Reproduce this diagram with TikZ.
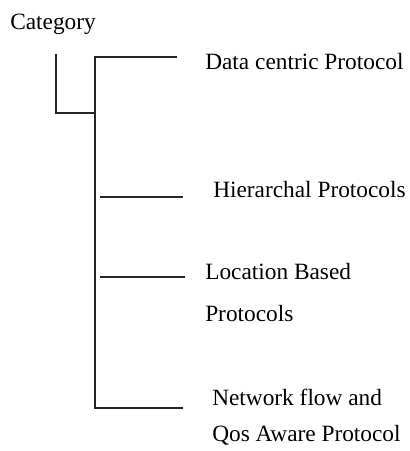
\documentclass[tikz,border=0pt]{standalone}
\usepackage{fontspec}
\setmainfont{Liberation Serif}
\begin{document}
\begin{tikzpicture}[x=0.75pt, y=-0.75pt]
\tikzset{branch/.style={line width=1.3pt, black!85},
  label/.style={anchor=base west, inner sep=0pt, font=\fontsize{17.5}{21}\selectfont}}
\useasboundingbox (0,0) rectangle (410,451);

% title
  \node[label] (cat) at (10,29) {Category};

  % tree points
  \coordinate (ltop) at (56,54);
  \coordinate (lbot) at (56,113);
  \coordinate (ljoin) at (95,113);
  \coordinate (mtop) at (95,57);
  \coordinate (mbot) at (95,408);
  \coordinate (dend) at (177,57);
  \coordinate (hstart) at (100,197);
  \coordinate (hend) at (183,197);
  \coordinate (lstart) at (100,277);
  \coordinate (lend) at (185,277);
  \coordinate (nend) at (183,408);

\draw[branch] (ltop) -- (lbot) -- (ljoin);
\draw[branch] (dend) -- (mtop) -- (mbot) -- (nend);
\draw[branch] (hstart) -- (hend);
\draw[branch] (lstart) -- (lend);

% protocols
\node[label] (data) at (205,69) {Data centric Protocol};
\node[label] (hier) at (213,197) {Hierarchal Protocols};
\node[label] (loca) at (205,279) {Location Based};
\node[label] (locb) at (205,321) {Protocols};
\node[label] (neta) at (212,405) {Network flow and};
\node[label] (netb) at (212,441) {Qos Aware Protocol};

\end{tikzpicture}
\end{document}
